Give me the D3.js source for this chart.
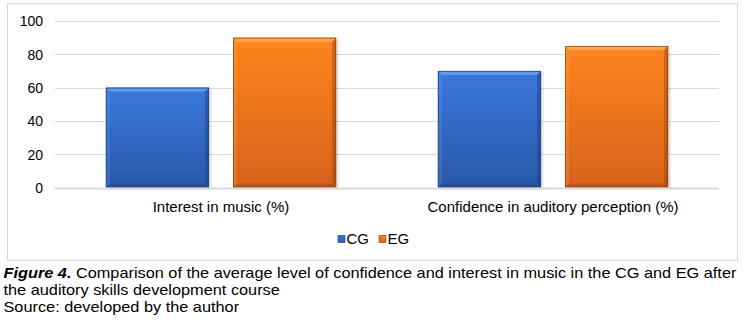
<!DOCTYPE html>
<html>
<head>
<meta charset="utf-8">
<script src="https://cdn.jsdelivr.net/npm/d3@7"></script>
<style>
  html, body { margin: 0; padding: 0; background: #fff; }
  svg { display: block; font-family: "Liberation Sans", Arial, sans-serif; }
</style>
</head>
<body>
<svg id="chart" width="749" height="323"></svg>
<script>
// Chart data
const categories = ["Interest in music (%)", "Confidence in auditory perception (%)"];
const seriesNames = ["CG", "EG"];
const cgValues = [60, 70];
const egValues = [90, 85];
const yTicks = [0, 20, 40, 60, 80, 100];
const captionBold = "Figure 4.";
const captionLine1 = " Comparison of the average level of confidence and interest in music in the CG and EG after";
const captionLine2 = "the auditory skills development course";
const captionLine3 = "Source: developed by the author";

const svg = d3.select("#chart");

// palette per series: [top, bottom, highlight, edge]
const palette = {
  CG: { top: "#3a78dc", bottom: "#2a58a8", hi: "#6a9ff0", edge: "#1d3f7c" },
  EG: { top: "#ff8420", bottom: "#d6621a", hi: "#ffab55", edge: "#8f420f" }
};

const defs = svg.append("defs");
seriesNames.forEach(s => {
  const g = defs.append("linearGradient")
    .attr("id", "grad-" + s).attr("x1", 0).attr("y1", 0).attr("x2", 0).attr("y2", 1);
  g.append("stop").attr("offset", "0%").attr("stop-color", palette[s].top);
  g.append("stop").attr("offset", "100%").attr("stop-color", palette[s].bottom);
});
const shadow = defs.append("filter").attr("id", "shadow")
  .attr("x", "-10%").attr("y", "-10%").attr("width", "130%").attr("height", "130%");
shadow.append("feDropShadow").attr("dx", 1.5).attr("dy", 1).attr("stdDeviation", 1.5)
  .attr("flood-color", "#000").attr("flood-opacity", 0.22);

// outer frame
svg.append("rect")
  .attr("x", 7.5).attr("y", 3.5).attr("width", 730).attr("height", 257)
  .attr("fill", "#fff").attr("stroke", "#d9d9d9").attr("stroke-width", 1);

const plot = { left: 55, right: 719, top: 21, bottom: 187.5 };

const x0 = d3.scaleBand().domain(categories)
  .range([plot.left, plot.right]).paddingInner(0).paddingOuter(0);
const x1 = d3.scaleBand().domain(seriesNames)
  .range([0, x0.bandwidth()]).paddingInner(0.189).paddingOuter(0.40);
const y = d3.scaleLinear().domain([0, 100]).range([plot.bottom, plot.top]);

// gridlines
svg.append("g").selectAll("line").data(yTicks.filter(t => t > 0)).join("line")
  .attr("x1", plot.left).attr("x2", plot.right)
  .attr("y1", d => Math.round(y(d)) + 0.5).attr("y2", d => Math.round(y(d)) + 0.5)
  .attr("stroke", "#d9d9d9").attr("stroke-width", 1);

// y axis labels
const yAxis = d3.axisLeft(y).tickValues(yTicks).tickSize(0).tickPadding(0);
const yg = svg.append("g").attr("transform", `translate(43,0)`).call(yAxis);
yg.select(".domain").remove();
yg.selectAll("text")
  .attr("font-family", "'Liberation Sans', Arial, sans-serif")
  .attr("font-size", 14).attr("fill", "#000").attr("dy", "0.35em");

// bars
const groups = svg.append("g").selectAll("g").data(categories).join("g")
  .attr("transform", d => `translate(${x0(d)},0)`);

const barData = (c, i) => [
  { s: "CG", v: cgValues[i] },
  { s: "EG", v: egValues[i] }
];

groups.each(function (c, i) {
  const g = d3.select(this);
  barData(c, i).forEach(d => {
    const bx = x1(d.s), bw = x1.bandwidth();
    const by = y(d.v), bh = y(0) - y(d.v);
    const p = palette[d.s];
    const bar = g.append("g");
    bar.append("rect")
      .attr("x", bx).attr("y", by).attr("width", bw).attr("height", bh)
      .attr("fill", `url(#grad-${d.s})`).attr("filter", "url(#shadow)");
    // bevel: top highlight
    const b = 4;
    bar.append("path")
      .attr("d", `M${bx},${by} L${bx + bw},${by} L${bx + bw - b},${by + b} L${bx + b},${by + b} Z`)
      .attr("fill", p.hi).attr("opacity", 0.85);
    // bevel: left light edge
    bar.append("path")
      .attr("d", `M${bx},${by} L${bx + b},${by + b} L${bx + b},${by + bh - b} L${bx},${by + bh} Z`)
      .attr("fill", p.hi).attr("opacity", 0.25);
    // bevel: right dark edge
    bar.append("path")
      .attr("d", `M${bx + bw},${by} L${bx + bw},${by + bh} L${bx + bw - b},${by + bh - b} L${bx + bw - b},${by + b} Z`)
      .attr("fill", p.edge).attr("opacity", 0.45);
    // bevel: bottom dark edge
    bar.append("path")
      .attr("d", `M${bx},${by + bh} L${bx + bw},${by + bh} L${bx + bw - b},${by + bh - b} L${bx + b},${by + bh - b} Z`)
      .attr("fill", p.edge).attr("opacity", 0.4);
    bar.append("rect")
      .attr("x", bx + 0.5).attr("y", by + 0.5).attr("width", bw - 1).attr("height", bh - 1)
      .attr("fill", "none").attr("stroke", p.edge).attr("stroke-width", 1).attr("opacity", 0.7);
  });
});

// baseline
svg.append("line")
  .attr("x1", plot.left).attr("x2", plot.right)
  .attr("y1", y(0) + 1).attr("y2", y(0) + 1)
  .attr("stroke", "#d9d9d9").attr("stroke-width", 2);

// category labels
const xAxis = d3.axisBottom(x0).tickSize(0).tickPadding(0);
const xg = svg.append("g").attr("transform", `translate(0,207)`).call(xAxis);
xg.select(".domain").remove();
xg.selectAll("text")
  .attr("font-family", "'Liberation Sans', Arial, sans-serif")
  .attr("font-size", 15).attr("fill", "#000").attr("dy", "0.35em");

// legend
const legendItems = [
  { s: "CG", x: 338 },
  { s: "EG", x: 379 }
];
const lg = svg.append("g");
legendItems.forEach(d => {
  const p = palette[d.s];
  lg.append("rect").attr("x", d.x).attr("y", 235.5).attr("width", 7).attr("height", 7)
    .attr("fill", `url(#grad-${d.s})`).attr("stroke", p.edge).attr("stroke-width", 0.6);
  lg.append("text").attr("x", d.x + 8.5).attr("y", 239).attr("dy", "0.35em")
    .attr("font-size", 15).attr("fill", "#000").text(d.s);
});

// caption (set slightly wide)
const cap = svg.append("g").attr("font-size", 14).attr("fill", "#000")
  .attr("transform", "translate(3.5,0) scale(1.165,1)");
const t1 = cap.append("text").attr("x", 0).attr("y", 278);
t1.append("tspan").attr("font-weight", "bold").attr("font-style", "italic").text(captionBold);
t1.append("tspan").text(captionLine1);
cap.append("text").attr("x", 0).attr("y", 295).text(captionLine2);
cap.append("text").attr("x", 0).attr("y", 312).text(captionLine3);
</script>
</body>
</html>
